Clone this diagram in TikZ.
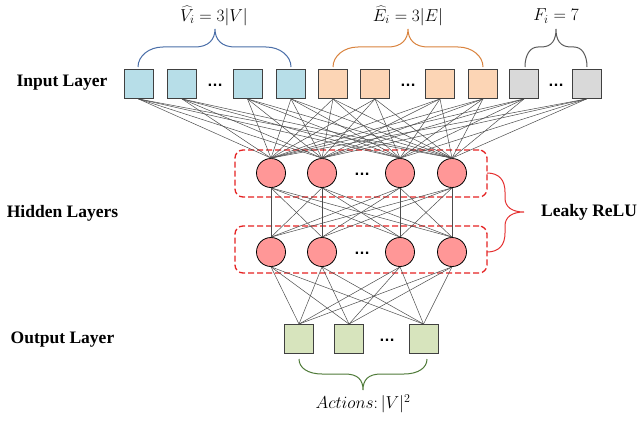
\documentclass[tikz,border=0pt]{standalone}
\usepackage[no-math]{fontspec}
\setmainfont{Liberation Serif}
\setsansfont{Liberation Sans}
\begin{document}
\begin{tikzpicture}[x=1pt,y=-1pt,
  cell/.style={draw=black!75,line width=0.9pt,minimum size=29pt,inner sep=0pt},
  vin/.style={cell,fill=vinfill},
  ein/.style={cell,fill=einfill},
  fin/.style={cell,fill=finfill},
  outc/.style={cell,fill=outfill},
  neuron/.style={circle,draw=black,line width=0.8pt,fill=neufill,minimum size=29pt,inner sep=0pt},
  link/.style={draw=black!70,line width=0.5pt},
  group/.style={draw=grpred,dashed,dash pattern=on 6pt off 3pt,line width=1.3pt,rounded corners=8pt},
  brc/.style={line width=1pt},
  layerlabel/.style={font=\fontsize{17.5}{20}\selectfont\bfseries,inner sep=0pt},
  mathlabel/.style={font=\fontsize{17.5}{20}\selectfont,inner sep=0pt},
  dotsl/.style={font=\fontsize{16}{18}\selectfont\sffamily\bfseries,inner sep=0pt}
]
\definecolor{vinfill}{HTML}{B7DEE8}
\definecolor{einfill}{HTML}{FCD5B5}
\definecolor{finfill}{HTML}{D9D9D9}
\definecolor{outfill}{HTML}{D7E4BD}
\definecolor{neufill}{HTML}{FF9797}
\definecolor{grpred}{HTML}{E52222}
\definecolor{bblue}{HTML}{4A6EA8}
\definecolor{borange}{HTML}{D9833E}
\definecolor{bgray}{HTML}{5A5A5A}
\definecolor{bgreen}{HTML}{4E7A38}
\definecolor{bred}{HTML}{E53030}

\useasboundingbox (0,0) rectangle (639,420);

% layer names
\node[layerlabel] (lin) at (62,83) {Input Layer};
\node[layerlabel] (lhid) at (62.5,213) {Hidden Layers};
\node[layerlabel] (lout) at (62.5,340) {Output Layer};
\node[layerlabel,anchor=west] (lrelu) at (541,212) {Leaky ReLU};

% input layer
\node[vin] (i1) at (138.5,84) {};
\node[vin] (i2) at (182,84) {};
\node[vin] (i3) at (247.5,84) {};
\node[vin] (i4) at (291,84) {};
\node[ein] (i5) at (333,84) {};
\node[ein] (i6) at (375,84) {};
\node[ein] (i7) at (440,84) {};
\node[ein] (i8) at (483,84) {};
\node[fin] (i9) at (524,84) {};
\node[fin] (i10) at (586.5,84) {};
\node[dotsl] (di1) at (215,85) {…};
\node[dotsl] (di2) at (408,85) {…};
\node[dotsl] (di3) at (556,85) {…};

% hidden layers
\node[group,minimum width=252pt,minimum height=47pt] (g1) at (361,173.5) {};
\node[group,minimum width=252pt,minimum height=47pt] (g2) at (361,249.5) {};
\foreach \n/\x in {1/271,2/322,3/400,4/452}{
  \node[neuron] (a\n) at (\x,173) {};
  \node[neuron] (b\n) at (\x,252) {};
}
\node[dotsl] (dh1) at (362,174) {…};
\node[dotsl] (dh2) at (362,253) {…};

% output layer
\node[outc] (o1) at (299,339) {};
\node[outc] (o2) at (349,339) {};
\node[outc] (o3) at (423.5,339) {};
\node[dotsl] (do) at (387,340) {…};

% full connections between consecutive layers
\foreach \i in {1,...,10}{
  \foreach \j in {1,...,4}{
    \draw[link] (i\i.south) -- (a\j.north);
  }
}
\foreach \i in {1,...,4}{
  \foreach \j in {1,...,4}{
    \draw[link] (a\i.south) -- (b\j.north);
  }
}
\foreach \i in {1,...,4}{
  \foreach \j in {1,...,3}{
    \draw[link] (b\i.south) -- (o\j.north);
  }
}

% group braces with their sizes
\draw[brc,bblue] (138,67) .. controls (138,56) and (149,47) .. (163,47) -- (195,47)
  .. controls (208,47) and (215,40) .. (215,29)
  .. controls (215,40) and (222,47) .. (235,47) -- (266,47)
  .. controls (280,47) and (291,56) .. (291,67);
\draw[brc,borange] (333,67) .. controls (333,56) and (344,47) .. (358,47) -- (388,47)
  .. controls (401,47) and (408,40) .. (408,29)
  .. controls (408,40) and (415,47) .. (428,47) -- (458,47)
  .. controls (472,47) and (483,56) .. (483,67);
\draw[brc,bgray] (525,67) .. controls (525,55) and (530,47) .. (538,47) -- (541,47)
  .. controls (552,47) and (556,40) .. (556,29)
  .. controls (556,40) and (560,47) .. (571,47) -- (574,47)
  .. controls (582,47) and (587,55) .. (587,67);
\draw[brc,bgreen] (299,359) .. controls (299,368) and (308,374) .. (322,374) -- (345,374)
  .. controls (358,374) and (363,380) .. (363,390)
  .. controls (363,380) and (368,374) .. (381,374) -- (404,374)
  .. controls (418,374) and (427,368) .. (427,359);
\draw[brc,bred] (487,173) .. controls (499,173) and (505,180) .. (505,192) -- (505,198)
  .. controls (505,207) and (512,212) .. (524,212)
  .. controls (512,212) and (505,217) .. (505,226) -- (505,233)
  .. controls (505,245) and (499,252) .. (487,252);

\node[mathlabel] (nv) at (214,16) {$\widehat{V}_i = 3|V|$};
\node[mathlabel] (ne) at (408,16) {$\widehat{E}_i = 3|E|$};
\node[mathlabel] (nf) at (556,16) {$F_i = 7$};
\node[mathlabel] (na) at (363,404) {$Actions\colon |V|^2$};
\end{tikzpicture}
\end{document}
